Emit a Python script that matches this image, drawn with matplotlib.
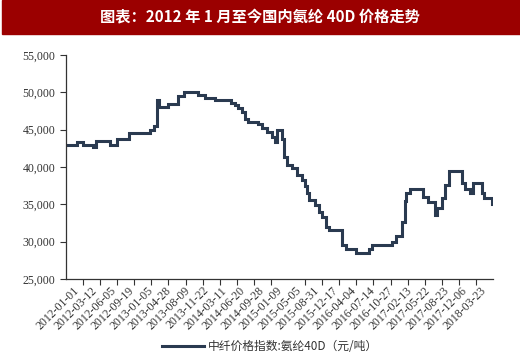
import matplotlib
matplotlib.use('Agg')
import matplotlib.pyplot as plt
import matplotlib.transforms as mtrans
from matplotlib.patches import Rectangle
from matplotlib.ticker import FuncFormatter

# weekly category index where the price changes, and the price (元/吨)
week = [0, 8, 12, 19, 21, 31, 36, 44, 59, 62, 64, 65, 72, 79, 83, 93, 98,
        105, 116, 119, 121, 124, 126, 128, 135, 138, 141, 145, 147, 148, 150,
        152, 153, 155, 159, 162, 166, 168, 169, 171, 175, 178, 180, 183, 185,
        194, 197, 204, 213, 215, 229, 232, 236, 238, 239, 242, 247, 251, 254,
        259, 261, 264, 266, 269, 275, 278, 280, 284, 286, 289, 292, 294, 299]
price = [43000, 43300, 43000, 42700, 43500, 43000, 43700, 44500, 45000, 45500,
         49000, 48000, 48500, 49500, 50000, 49600, 49300, 49000, 48600, 48300,
         47900, 47300, 46400, 46000, 45800, 45200, 44700, 44000, 43400, 45000,
         44900, 43800, 41400, 40300, 39800, 38900, 38300, 37500, 36500, 35600,
         34900, 34000, 33300, 32000, 31500, 29500, 29000, 28500, 29000, 29500,
         30000, 30700, 32700, 35500, 36500, 37000, 37000, 36000, 35300, 33600,
         34500, 35800, 37600, 39500, 39500, 37800, 37000, 36500, 37800, 37800,
         36500, 35800, 35000]

date_labels = ['2012-01-01', '2012-03-12', '2012-06-05', '2012-09-19',
               '2013-01-05', '2013-04-28', '2013-08-09', '2013-11-22',
               '2014-03-11', '2014-06-20', '2014-09-28', '2015-01-09',
               '2015-05-05', '2015-08-31', '2015-12-17', '2016-04-04',
               '2016-07-14', '2016-10-27', '2017-02-13', '2017-05-22',
               '2017-08-23', '2017-12-06', '2018-03-23']

y_ticks = [25000, 30000, 35000, 40000, 45000, 50000, 55000]

title = '图表：2012 年 1 月至今国内氨纶 40D 价格走势'
series_name = '中纤价格指数:氨纶40D（元/吨）'

line_color = '#2A3A50'
text_color = '#333333'

fig = plt.figure(figsize=(5.2, 3.62), dpi=100)

# red title banner
fig.patches.append(Rectangle((0.004, 1 - 34/362), 0.996, 34/362,
                             transform=fig.transFigure, color='#9B0000', zorder=0))
fig.text(0.5, 1 - 17/362, title, color='white', fontsize=11, fontweight='bold',
         ha='center', va='center', family=['Noto Sans CJK SC', 'DejaVu Sans'])

ax = fig.add_axes([66/520, 1 - 279/362, (493 - 66)/520, (279 - 55)/362])
ax.plot(week, price, color=line_color, lw=2.2, drawstyle='steps-post',
        solid_joinstyle='miter', label=series_name)

ax.set_xlim(0, 300)
ax.set_ylim(25000, 55000)
ax.set_yticks(y_ticks)
ax.yaxis.set_major_formatter(FuncFormatter(lambda v, p: f'{int(v):,}'))

# labels every 13 categories, tick marks every 12
ax.set_xticks([13*i for i in range(len(date_labels))])
ax.set_xticklabels(date_labels, rotation=45, ha='right', rotation_mode='anchor')
ax.set_xticks([12*i for i in range(25)], minor=True)
ax.tick_params(axis='x', which='major', length=0, pad=4)
ax.tick_params(axis='x', which='minor', length=4, width=0.8, color='#333333')
ax.tick_params(axis='y', length=4, width=0.8, color='#333333')
shift = mtrans.ScaledTranslation(5/72, 0, fig.dpi_scale_trans)
for lab in ax.get_xticklabels():
    lab.set_transform(lab.get_transform() + shift)
for lab in ax.get_xticklabels() + ax.get_yticklabels():
    lab.set_fontfamily('Liberation Serif')
    lab.set_fontsize(8.5)
    lab.set_color(text_color)

for s in ['top', 'right']:
    ax.spines[s].set_visible(False)
for s in ['left', 'bottom']:
    ax.spines[s].set_color('#333333')
    ax.spines[s].set_linewidth(0.9)

fig.legend(loc='center', bbox_to_anchor=(0.52, 1 - 347/362), frameon=False,
           handlelength=3.5, handletextpad=0.4,
           prop={'family': ['Noto Sans CJK SC', 'DejaVu Sans'], 'size': 8.5})
for t in fig.legends[0].get_texts():
    t.set_color(text_color)

plt.savefig('out.png', dpi=100)
